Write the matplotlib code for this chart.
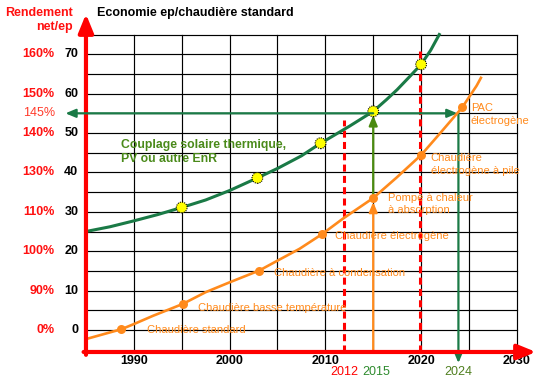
import matplotlib
matplotlib.use("Agg")
import matplotlib.pyplot as plt

plt.rcParams['font.family'] = ['Liberation Sans', 'DejaVu Sans']

# ---- data ----
green_years = [1985, 1987.5, 1990, 1992.5, 1995, 1997.5, 2000, 2002.9, 2005, 2007.5,
               2009.5, 2010, 2012.5, 2015, 2016.4, 2017.5, 2018.8, 2020, 2021.0, 2021.9]
green_vals = [25.0, 26.2, 27.7, 29.3, 31.1, 33.0, 35.4, 38.6, 41.0, 44.2,
              47.4, 48.1, 51.7, 55.5, 58.5, 61.0, 64.3, 67.4, 71.0, 75.0]
green_mk_years = [1995, 2002.9, 2009.5, 2015, 2020]
green_mk_vals = [31.1, 38.6, 47.4, 55.5, 67.4]

orange_years = [1985, 1988.7, 1990, 1992, 1995.1, 1997.5, 2000, 2003.1, 2005, 2007.3,
                2009.7, 2011.8, 2015, 2017.4, 2020, 2021.9, 2024.3, 2025.8, 2026.25]
orange_vals = [-2.3, 0.2, 1.5, 3.6, 6.6, 9.6, 12.1, 15.1, 17.6, 20.6,
               24.4, 28.2, 33.5, 38.6, 44.4, 49.7, 56.5, 62.0, 64.0]
orange_mk_years = [1988.7, 1995.1, 2003.1, 2009.7, 2015, 2020, 2024.3]
orange_mk_vals = [0.2, 6.6, 15.1, 24.4, 33.5, 44.4, 56.5]
orange_labels = ["Chaudière standard", "Chaudière basse température", "Chaudière à condensation",
                 "Chaudière électrogène", "Pompe à chaleur\nà absorption",
                 "Chaudière\nélectrogène à pile", "PAC\nélectrogène"]

x_ticks = [1990, 2000, 2010, 2020, 2030]
y_ticks = [0, 10, 20, 30, 40, 50, 60, 70]
pct_vals = [0, 10, 20, 30, 40, 50, 55, 60, 70]
pct_labels = ["0%", "90%", "100%", "110%", "130%", "140%", "145%", "150%", "160%"]

mark_years = [2012, 2015, 2024]
dash_years = [2012, 2019.9]
dash_tops = [53.3, 71.8]
target_val = 55
pac_year = 2023.9

# ---- figure ----
fig = plt.figure(figsize=(5.4, 3.85), dpi=100)
ax = fig.add_axes([0, 0, 1, 1])
ax.set_xlim(1976.02, 2032.42)
ax.set_ylim(-13.96, 83.76)
ax.axis('off')

x0, x1 = 1985, 2030
ybot = -5.58
# grid
for y in range(0, 80, 5):
    ax.plot([x0, x1], [y, y], color='black', lw=0.85, zorder=1)
for x in range(1990, 2031, 5):
    ax.plot([x, x], [ybot, 75], color='black', lw=0.85, zorder=1)

# red axes with arrows
ax.annotate('', xy=(1985, 80.2), xytext=(1985, -6.3),
            arrowprops=dict(arrowstyle='-|>,head_length=1.1,head_width=0.45', color='red',
                            lw=3, shrinkA=0, shrinkB=0, mutation_scale=10), zorder=6)
ax.annotate('', xy=(2032.0, ybot), xytext=(1984.75, ybot),
            arrowprops=dict(arrowstyle='-|>,head_length=1.1,head_width=0.45', color='red',
                            lw=3, shrinkA=0, shrinkB=0, mutation_scale=10), zorder=6)

# red dashed lines
for xd, top in zip(dash_years, dash_tops):
    ax.plot([xd, xd], [ybot, top], color='red', lw=2.2, ls=(0, (2.3, 1.4)), zorder=3)

# curves
green_c = '#1A7A46'
orange_c = '#FF8A1C'
ax.plot(green_years, green_vals, color=green_c, lw=2.2, zorder=4, solid_joinstyle='round')
ax.plot(orange_years, orange_vals, color=orange_c, lw=1.9, zorder=4, solid_joinstyle='round')

# arrows
y15_or = orange_mk_vals[4]
y15_gr = green_mk_vals[3]
ax.annotate('', xy=(2015, y15_or - 1.0), xytext=(2015, ybot),
            arrowprops=dict(arrowstyle='-|>,head_length=0.6,head_width=0.25', color=orange_c,
                            lw=1.6, shrinkA=0, shrinkB=0, mutation_scale=10), zorder=3)
ax.annotate('', xy=(2015, y15_gr - 1.0), xytext=(2015, y15_or),
            arrowprops=dict(arrowstyle='-|>,head_length=0.6,head_width=0.25', color='#4A8A10',
                            lw=1.6, shrinkA=0, shrinkB=0, mutation_scale=10), zorder=3)
ax.annotate('', xy=(1982.85, target_val), xytext=(2015, target_val),
            arrowprops=dict(arrowstyle='-|>,head_length=0.6,head_width=0.25', color=green_c,
                            lw=1.6, shrinkA=0, shrinkB=0, mutation_scale=10), zorder=7)
ax.annotate('', xy=(pac_year - 0.1, target_val), xytext=(2015, target_val),
            arrowprops=dict(arrowstyle='-|>,head_length=0.6,head_width=0.25', color=green_c,
                            lw=1.6, shrinkA=0, shrinkB=0, mutation_scale=10), zorder=3)
ax.annotate('', xy=(pac_year, -8.4), xytext=(pac_year, target_val),
            arrowprops=dict(arrowstyle='-|>,head_length=0.6,head_width=0.25', color=green_c,
                            lw=1.6, shrinkA=0, shrinkB=0, mutation_scale=10), zorder=3)

# markers
ax.scatter(orange_mk_years, orange_mk_vals, s=42, color=orange_c, zorder=5, linewidths=0)
ax.scatter(green_mk_years, green_mk_vals, s=60, facecolor='#FFFF00', edgecolor='black',
           linewidths=0.8, linestyle=(0, (1, 1)), zorder=5)

# orange labels
lab_pos = [(1991.4, 0.0), (1996.7, 5.5), (2004.6, 14.4), (2011.0, 23.9),
           (2016.5, 32.0), (2021.0, 42.0), (2025.2, 54.6)]
for (lx, ly), t in zip(lab_pos, orange_labels):
    ax.text(lx, ly, t, color=orange_c, fontsize=8, ha='left', va='center',
            linespacing=1.35, zorder=6)

ax.text(1988.7, 45.2, "Couplage solaire thermique,\nPV ou autre EnR", color='#4A8A1A',
        fontsize=8.8, fontweight='bold', ha='left', va='center', linespacing=1.25, zorder=6)

# tick labels
for x in x_ticks:
    ax.text(x, -7.9, str(x), fontsize=9, fontweight='bold', ha='center', va='center')
for y in y_ticks:
    ax.text(1984.2, y, str(y), fontsize=9, fontweight='bold', ha='right', va='center')
for y, t in zip(pct_vals, pct_labels):
    bold = t != "145%"
    ax.text(1981.75, y, t, fontsize=9, fontweight='bold' if bold else 'normal',
            color='#FF1010' if bold else '#FF3A2A', ha='right', va='center')

# year marks below axis
mark_cols = ['red', '#2E8B2E', '#4F7F1F']
mark_x = [2012.0, 2015.3, pac_year]
for xm, t, c in zip(mark_x, mark_years, mark_cols):
    ax.text(xm, -10.7, str(t), fontsize=9, color=c, ha='center', va='center')

# titles
fig.text(97 / 540, 1 - 13 / 385, "Economie ep/chaudière standard", fontsize=9,
         fontweight='bold', ha='left', va='center')
fig.text(73 / 540, 1 - 20 / 385, "Rendement\nnet/ep", fontsize=9, fontweight='bold',
         color='#FF1010', ha='right', va='center', multialignment='right', linespacing=1.2)

fig.savefig("out.png", dpi=100)
